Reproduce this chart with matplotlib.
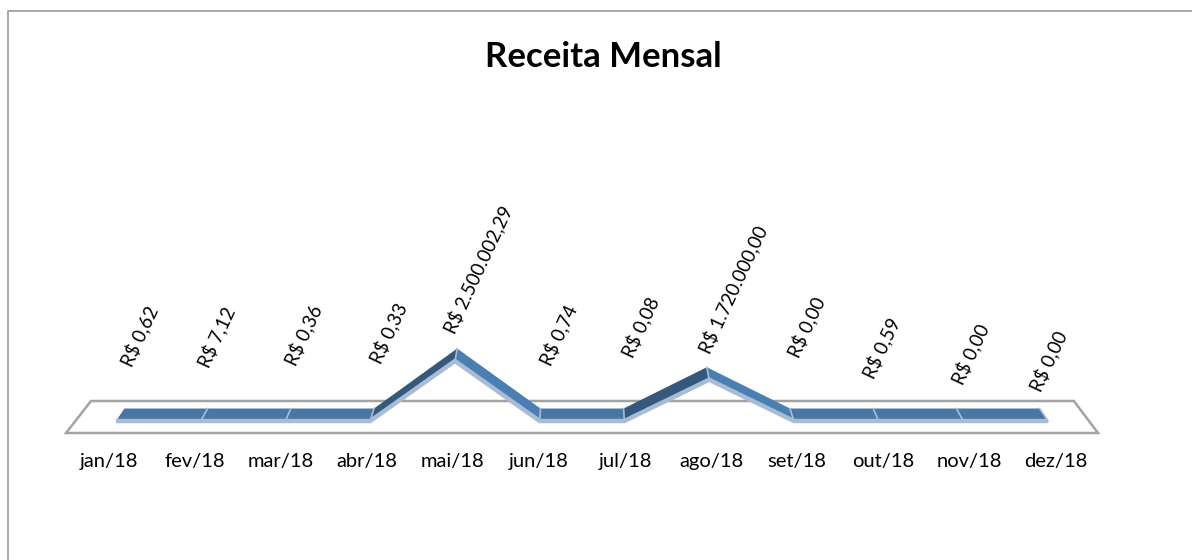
import matplotlib
matplotlib.use("Agg")
import matplotlib.pyplot as plt
from matplotlib.patches import Polygon

plt.rcParams['font.family'] = ['Lato', 'DejaVu Sans']

months = ['jan/18', 'fev/18', 'mar/18', 'abr/18', 'mai/18', 'jun/18',
          'jul/18', 'ago/18', 'set/18', 'out/18', 'nov/18', 'dez/18']
revenue = [0.62, 7.12, 0.36, 0.33, 2500002.29, 0.74,
           0.08, 1720000.00, 0.00, 0.59, 0.00, 0.00]
value_labels = ['R$ 0,62', 'R$ 7,12', 'R$ 0,36', 'R$ 0,33', 'R$ 2.500.002,29', 'R$ 0,74',
                'R$ 0,08', 'R$ 1.720.000,00', 'R$ 0,00', 'R$ 0,59', 'R$ 0,00', 'R$ 0,00']

W, H = 1192, 560
fig = plt.figure(figsize=(W / 100, H / 100), dpi=100)
ax = fig.add_axes([0, 0, 1, 1])
ax.axis('off')

# scale of the plot: one month is 84.73 px, one pixel is 41667 R$
px_x = 84.73
px_y = 41667
ax.set_xlim(-116 / px_x, (W - 116) / px_x)
ax.set_ylim(-(H - 421) * px_y, 421 * px_y)

center = 5.5
depth = 12.5 * px_y   # ribbon height on screen
lean = 0.018          # the back edge pulls towards the center


def back(i, v):
    return i + (center - i) * lean, v + depth


# chart frame, only top and left are visible
ax.plot([8 / W, 8 / W, 1], [0, 1 - 11 / H, 1 - 11 / H],
        transform=ax.transAxes, color='#a0a0a0', lw=1.3, zorder=1)

# floor of the 3D chart
floor_front = -12 * px_y
floor_back = 20 * px_y
floor = [(-0.59, floor_front), (-0.295, floor_back), (11.305, floor_back), (11.59, floor_front)]
ax.add_patch(Polygon(floor, closed=True, fill=False, edgecolor='#a3a3a3', lw=1.8, zorder=2))

# ribbon, one quad per month step
for i in range(len(revenue) - 1):
    v0, v1 = revenue[i], revenue[i + 1]
    b0 = back(i, v0)
    b1 = back(i + 1, v1)
    if v1 > v0 + 1000:
        face = '#35597c'
    elif v1 < v0 - 1000:
        face = '#4a7fb2'
    else:
        face = '#4877a3'
    ax.add_patch(Polygon([(i, v0), (i + 1, v1), b1, b0], closed=True, facecolor=face,
                         edgecolor='none', zorder=3))
    # light seam between segments
    ax.plot([i + 1, b1[0]], [v1, b1[1]], color='#a9bcd6', lw=1.2, zorder=4)

# light lower edge of the ribbon
ax.plot(range(len(revenue)), revenue, color='#a9bcd6', lw=3.2, zorder=5,
        solid_joinstyle='miter', solid_capstyle='butt')

# month labels sit on the front plane, a bit wider than the ribbon
for i, m in enumerate(months):
    ax.text(center + (i - center) * 1.016, -40 * px_y, m, ha='center', va='center',
            fontsize=14.5, color='#000000')

# value labels, hand placed like the original (pixel offset from the point)
label_dx = [23, 16, 18, 18, 23, 19, 16, 24, 13, 3, 7, 0]
label_dy = [85, 84, 86, 88, 91, 86, 94, 90, 94, 73, 67, 60]
for i, (v, t) in enumerate(zip(revenue, value_labels)):
    ax.annotate(t, xy=(i, v), xytext=(label_dx[i], label_dy[i]), textcoords='offset pixels',
                rotation=65, rotation_mode='anchor', ha='center', va='center',
                fontsize=13.5, color='#000000')

ax.text(603 / W, 1 - 57 / H, 'Receita Mensal', transform=ax.transAxes, ha='center',
        va='center', fontsize=25, fontweight='bold', color='#000000')

fig.savefig('out.png', dpi=100)
